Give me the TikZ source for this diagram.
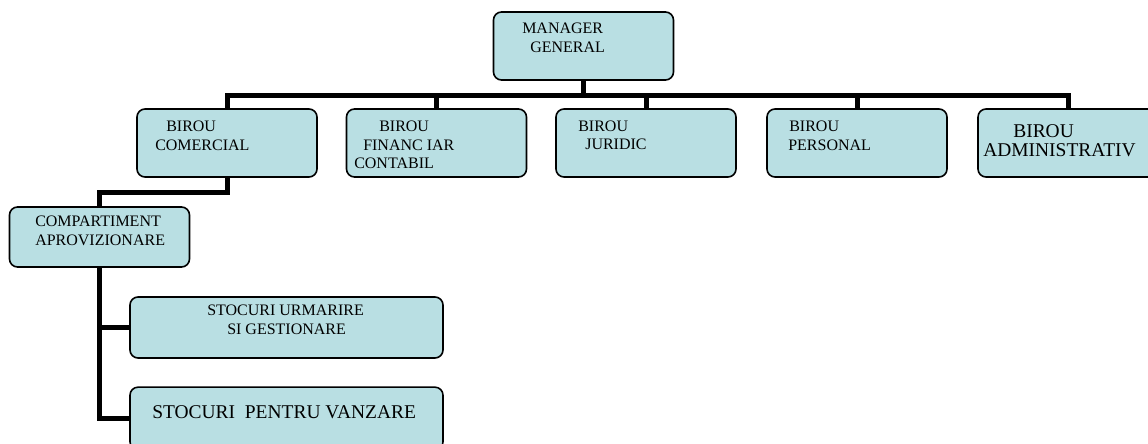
\documentclass[tikz,border=0pt]{standalone}
\usepackage{fontspec}
\setmainfont{Liberation Serif}
\definecolor{boxfill}{RGB}{185,223,227}

\begin{document}
\begin{tikzpicture}[x=0.75pt,y=-0.75pt,
    unit/.style={draw,fill=boxfill,line width=1.2pt,rounded corners=6pt,
      inner sep=0pt,minimum width=135pt,minimum height=51pt},
    link/.style={line width=3.75pt},
    lbl/.style={anchor=base west,inner sep=0pt,font=\fontsize{12}{14}\selectfont},
    biglbl/.style={lbl,font=\fontsize{14.6}{16}\selectfont}]
  \useasboundingbox (0,0) rectangle (1148,443);

  \node[unit] (mgr) at (583.5,46) {};
  \foreach \name/\x in {comercial/227,financiar/436.5,juridic/646,personal/857,admin/1068}{
    \node[unit] (\name) at (\x,143) {};
  }
  \node[unit,minimum height=45pt] (compart) at (99.5,237) {};
  \node[unit,minimum width=234.75pt,minimum height=45.75pt] (urm) at (286.5,327.5) {};
  \node[unit,minimum width=234.75pt,minimum height=47pt] (vanz) at (286.5,418.5) {};

  \coordinate (bar) at (584,95);
  \draw[link] (mgr.south) -- (mgr.south |- bar);
  \draw[link] (comercial.north) -- (comercial.north |- bar) -- (admin.north |- bar) -- (admin.north);
  \foreach \name in {financiar,juridic,personal}{
    \draw[link] (\name.north) -- (\name.north |- bar);
  }
  \draw[link] (comercial.south) -- ++(0,15) -| (compart.north);
  \draw[link] (compart.south) |- (vanz.west);
  \draw[link] (compart.south |- urm.west) -- (urm.west);

  \foreach \x/\y/\t [count=\i] in {522/33/MANAGER,530/52/GENERAL,
      166/131/BIROU,155/150/COMERCIAL,
      379/131/BIROU,363/150/FINANC IAR,354/168/CONTABIL,
      578/131/BIROU,585/149/JURIDIC,
      789/131/BIROU,788/150/PERSONAL,
      35/226/COMPARTIMENT,35/245/APROVIZIONARE,
      207/315/STOCURI URMARIRE,227/334/SI GESTIONARE}{
    \node[lbl] (txt\i) at (\x,\y) {\t};
  }
  \node[biglbl] (txt16) at (1013,137) {BIROU};
  \node[biglbl] (txt17) at (983,156) {ADMINISTRATIV};
  \node[biglbl] (txt18) at (152,418) {STOCURI\ \ PENTRU VANZARE};
\end{tikzpicture}
\end{document}
